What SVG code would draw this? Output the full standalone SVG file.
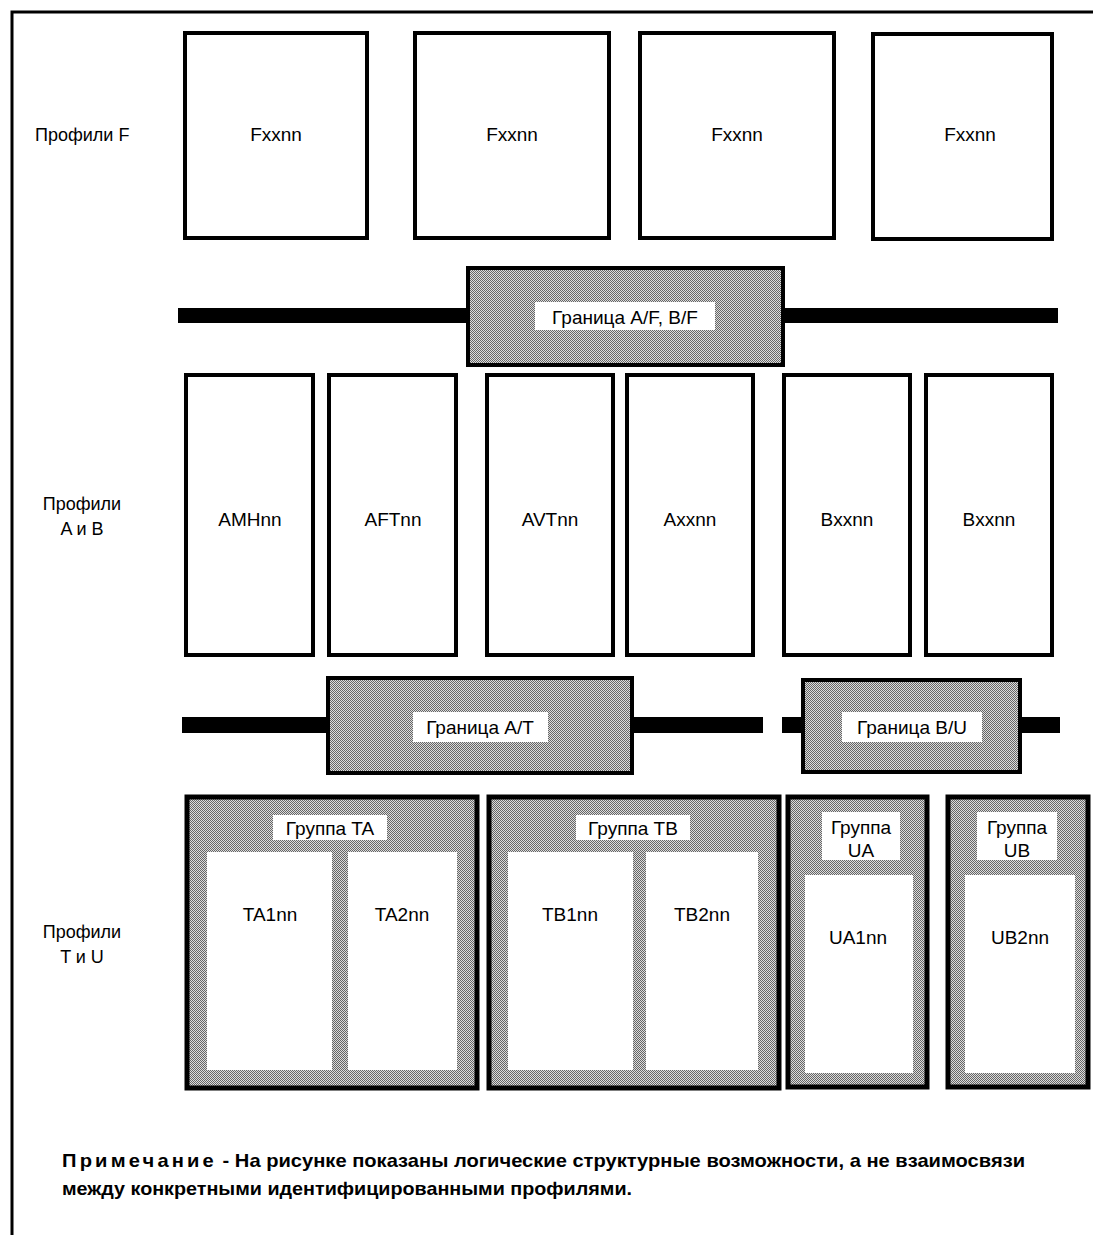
<svg xmlns="http://www.w3.org/2000/svg" width="1093" height="1235" viewBox="0 0 1093 1235">
<style>
text{font-family:"Liberation Sans",Arial,sans-serif;fill:#000}
.lbl{font-size:19px;text-anchor:middle}
.side{font-size:18px;text-anchor:middle}
.box{fill:#fff;stroke:#000;stroke-width:4}
.inner{fill:#fff;stroke:none}
.shade{fill:url(#dither);stroke:#000;stroke-width:4}
.grp{fill:url(#dither);stroke:#000;stroke-width:5}
.bar{fill:#000}
.note{font-size:19px;font-weight:bold}
</style>
<defs>
<pattern id="dither" patternUnits="userSpaceOnUse" width="2" height="2">
<rect width="2" height="2" fill="#dcdcdc"/>
<rect width="1" height="1" fill="#666"/>
<rect x="1" y="1" width="1" height="1" fill="#666"/>
</pattern>
</defs>
<rect width="1093" height="1235" fill="#fff"/>
<path d="M12,1235 V12 H1093" fill="none" stroke="#000" stroke-width="3"/>

<g id="connectors">
<rect class="bar" x="178" y="308" width="880" height="15"/>
<rect class="bar" x="182" y="717" width="581" height="16"/>
<rect class="bar" x="782" y="717" width="278" height="16"/>
</g>

<g id="side-labels">
<text class="side" x="35" y="141" style="text-anchor:start">Профили F</text>
<text class="side" x="82" y="510">Профили</text>
<text class="side" x="82" y="535">A и B</text>
<text class="side" x="82" y="938">Профили</text>
<text class="side" x="82" y="963">T и U</text>
</g>

<g id="F1"><rect class="box" x="185" y="33" width="182" height="205"/><text class="lbl" x="276" y="141">Fxxnn</text></g>
<g id="F2"><rect class="box" x="415" y="33" width="194" height="205"/><text class="lbl" x="512" y="141">Fxxnn</text></g>
<g id="F3"><rect class="box" x="640" y="33" width="194" height="205"/><text class="lbl" x="737" y="141">Fxxnn</text></g>
<g id="F4"><rect class="box" x="873" y="34" width="179" height="205"/><text class="lbl" x="970" y="141">Fxxnn</text></g>

<g id="boundary-AF-BF"><rect class="shade" x="468" y="268" width="315" height="97"/><rect class="inner" x="535" y="302" width="180" height="28"/><text class="lbl" x="625" y="324">Граница A/F, B/F</text></g>

<g id="AMH"><rect class="box" x="186" y="375" width="127" height="280"/><text class="lbl" x="250" y="526">AMHnn</text></g>
<g id="AFT"><rect class="box" x="329" y="375" width="127" height="280"/><text class="lbl" x="393" y="526">AFTnn</text></g>
<g id="AVT"><rect class="box" x="487" y="375" width="126" height="280"/><text class="lbl" x="550" y="526">AVTnn</text></g>
<g id="Axx"><rect class="box" x="627" y="375" width="126" height="280"/><text class="lbl" x="690" y="526">Axxnn</text></g>
<g id="Bxx1"><rect class="box" x="784" y="375" width="126" height="280"/><text class="lbl" x="847" y="526">Bxxnn</text></g>
<g id="Bxx2"><rect class="box" x="926" y="375" width="126" height="280"/><text class="lbl" x="989" y="526">Bxxnn</text></g>

<g id="boundary-AT"><rect class="shade" x="328" y="678" width="304" height="95"/><rect class="inner" x="413" y="712" width="135" height="30"/><text class="lbl" x="480" y="734">Граница A/T</text></g>
<g id="boundary-BU"><rect class="shade" x="803" y="680" width="217" height="92"/><rect class="inner" x="842" y="712" width="140" height="30"/><text class="lbl" x="912" y="734">Граница B/U</text></g>

<g id="group-TA">
<rect class="grp" x="187" y="797" width="290" height="291"/>
<rect class="inner" x="273" y="815" width="114" height="25"/><text class="lbl" x="330" y="835">Группа TA</text>
<rect class="inner" x="207" y="852" width="125" height="218"/><text class="lbl" x="270" y="921">TA1nn</text>
<rect class="inner" x="348" y="852" width="109" height="218"/><text class="lbl" x="402" y="921">TA2nn</text>
</g>
<g id="group-TB">
<rect class="grp" x="489" y="797" width="290" height="291"/>
<rect class="inner" x="576" y="815" width="114" height="25"/><text class="lbl" x="633" y="835">Группа TB</text>
<rect class="inner" x="508" y="852" width="125" height="218"/><text class="lbl" x="570" y="921">TB1nn</text>
<rect class="inner" x="646" y="852" width="112" height="218"/><text class="lbl" x="702" y="921">TB2nn</text>
</g>
<g id="group-UA">
<rect class="grp" x="788" y="797" width="139" height="290"/>
<rect class="inner" x="822" y="812" width="78" height="48"/><text class="lbl" x="861" y="834">Группа</text><text class="lbl" x="861" y="857">UA</text>
<rect class="inner" x="805" y="875" width="108" height="198"/><text class="lbl" x="858" y="944">UA1nn</text>
</g>
<g id="group-UB">
<rect class="grp" x="948" y="797" width="140" height="290"/>
<rect class="inner" x="977" y="812" width="80" height="48"/><text class="lbl" x="1017" y="834">Группа</text><text class="lbl" x="1017" y="857">UB</text>
<rect class="inner" x="965" y="875" width="110" height="198"/><text class="lbl" x="1020" y="944">UB2nn</text>
</g>

<g id="note">
<text class="note" x="62" y="1167" textLength="963" lengthAdjust="spacingAndGlyphs"><tspan letter-spacing="3">Примечание</tspan> - На рисунке показаны логические  структурные возможности, а не взаимосвязи</text>
<text class="note" x="62" y="1195" textLength="570" lengthAdjust="spacingAndGlyphs">между конкретными идентифицированными профилями.</text>
</g>
</svg>
